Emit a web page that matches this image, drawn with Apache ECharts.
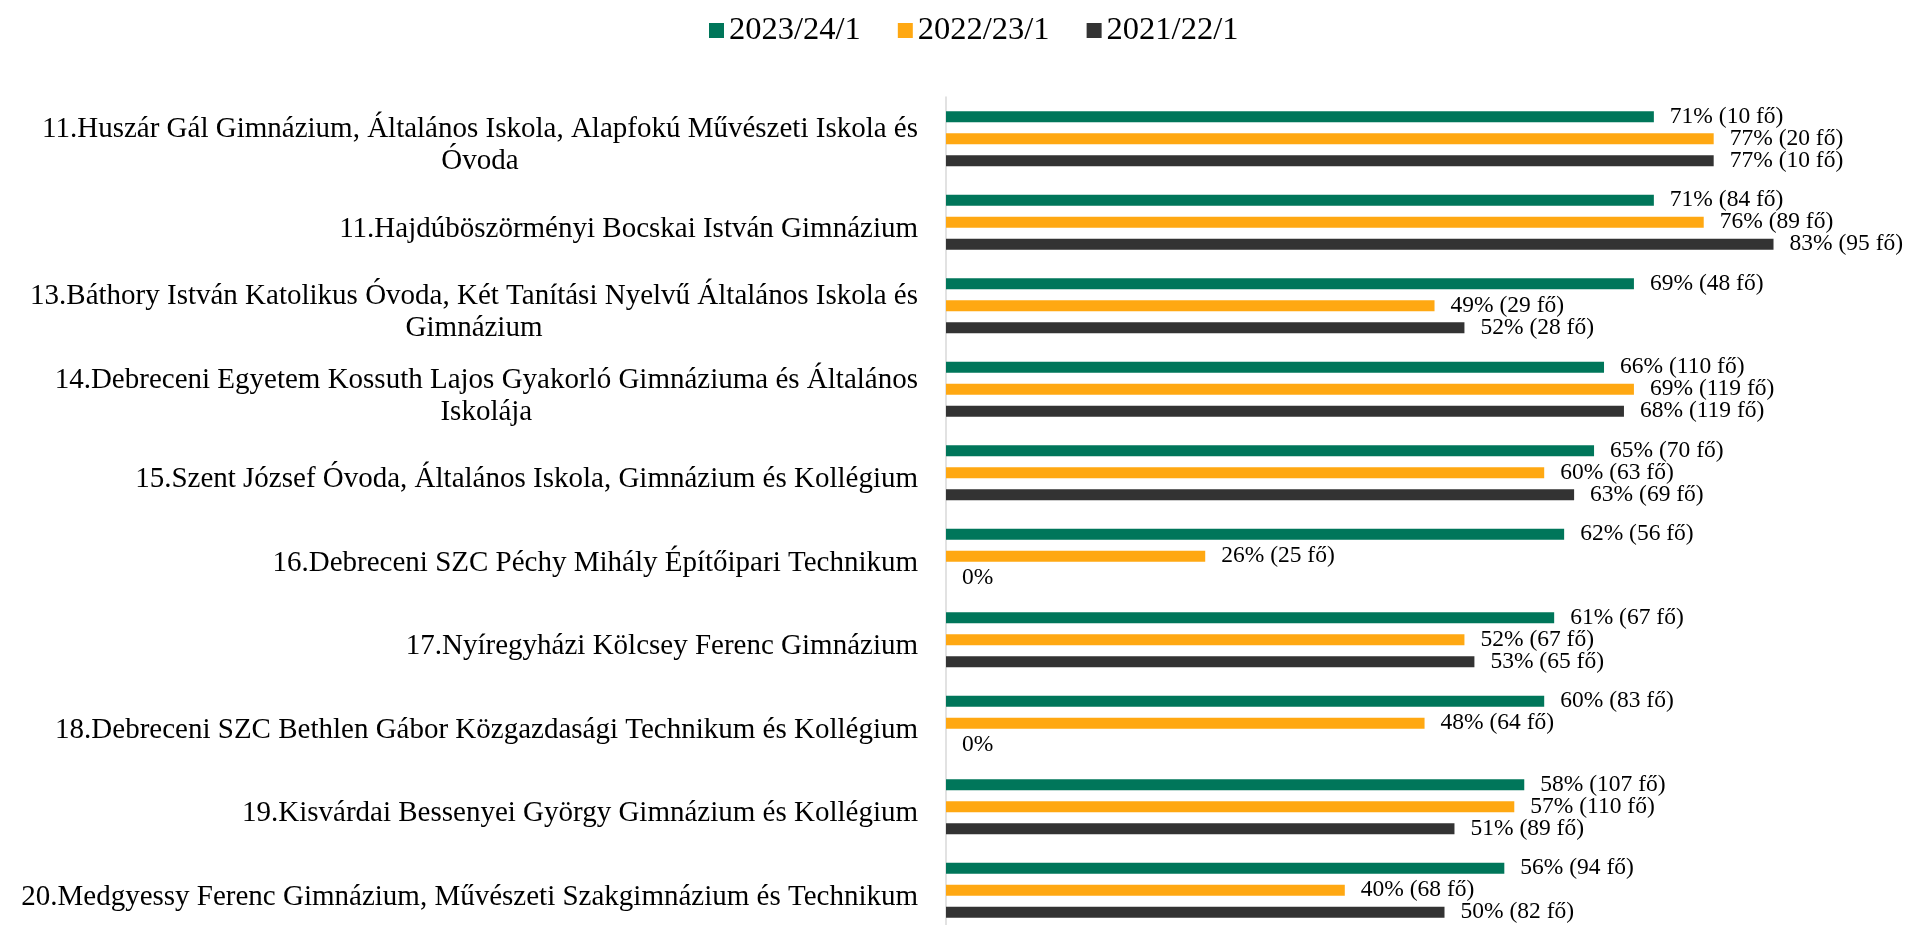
<!DOCTYPE html>
<html>
<head>
<meta charset="utf-8">
<script src="https://cdn.jsdelivr.net/npm/echarts@6/dist/echarts.min.js"></script>
<style>
  html, body { margin: 0; padding: 0; background: #fff; }
  #chart { width: 1910px; height: 925px; }
</style>
</head>
<body>
<div id="chart"></div>
<script>
// schools, top to bottom
var schools = [
    "11.Huszár Gál Gimnázium, Általános Iskola, Alapfokú Művészeti Iskola és\nÓvoda",
    "11.Hajdúböszörményi Bocskai István Gimnázium",
    "13.Báthory István Katolikus Óvoda, Két Tanítási Nyelvű Általános Iskola és\nGimnázium",
    "14.Debreceni Egyetem Kossuth Lajos Gyakorló Gimnáziuma és Általános\nIskolája",
    "15.Szent József Óvoda, Általános Iskola, Gimnázium és Kollégium",
    "16.Debreceni SZC Péchy Mihály Építőipari Technikum",
    "17.Nyíregyházi Kölcsey Ferenc Gimnázium",
    "18.Debreceni SZC Bethlen Gábor Közgazdasági Technikum és Kollégium",
    "19.Kisvárdai Bessenyei György Gimnázium és Kollégium",
    "20.Medgyessy Ferenc Gimnázium, Művészeti Szakgimnázium és Technikum"
];

var seriesNames = ["2023/24/1", "2022/23/1", "2021/22/1"];

// percentages
var pct2023 = [71, 71, 69, 66, 65, 62, 61, 60, 58, 56];
var pct2022 = [77, 76, 49, 69, 60, 26, 52, 48, 57, 40];
var pct2021 = [77, 83, 52, 68, 63, 0, 53, 0, 51, 50];

// head counts (fő), null where there was no data
var count2023 = [10, 84, 48, 110, 70, 56, 67, 83, 107, 94];
var count2022 = [20, 89, 29, 119, 63, 25, 67, 64, 110, 68];
var count2021 = [10, 95, 28, 119, 69, null, 65, null, 89, 82];

var colors = ["#00765a", "#ffa812", "#333333"];

var chart = echarts.init(document.getElementById("chart"));

function makeSeries(idx, values, counts) {
    return {
        name: seriesNames[idx],
        type: "bar",
        data: values,
        barWidth: 11,
        barGap: "100%",
        itemStyle: { color: colors[idx] },
        label: {
            show: true,
            position: "right",
            distance: 16,
            fontFamily: "Liberation Serif",
            fontSize: 23.5,
            color: "#000",
            formatter: function (p) {
                var c = counts[p.dataIndex];
                if (c == null) return p.value + "%";
                return p.value + "% (" + c + " fő)";
            }
        }
    };
}

var option = {
    animation: false,
    textStyle: { fontFamily: "Liberation Serif" },
    legend: {
        top: 9,
        left: 704,
        itemWidth: 15,
        itemHeight: 15,
        itemGap: 37,
        icon: "rect",
        textStyle: { fontFamily: "Liberation Serif", fontSize: 32.5, color: "#000" },
        data: seriesNames
    },
    grid: {
        left: 946,
        top: 97,
        width: 997,
        height: 835,
        outerBoundsMode: "none"
    },
    xAxis: {
        type: "value",
        min: 0,
        max: 100,
        show: false
    },
    yAxis: {
        type: "category",
        inverse: true,
        data: schools,
        axisLine: { show: true, lineStyle: { color: "#d9d9d9", width: 1.5 } },
        axisTick: { show: false },
        axisLabel: {
            margin: 28,
            color: "#000",
            padding: [14, 0, 0, 0],
            fontFamily: "Liberation Serif",
            fontSize: 29,
            lineHeight: 32,
            formatter: function (v) { return "{c|" + v + "}"; },
            rich: {
                c: { align: "center", fontFamily: "Liberation Serif", fontSize: 29, lineHeight: 32, color: "#000" }
            }
        }
    },
    series: [
        makeSeries(0, pct2023, count2023),
        makeSeries(1, pct2022, count2022),
        makeSeries(2, pct2021, count2021)
    ]
};

chart.setOption(option);
</script>
</body>
</html>
